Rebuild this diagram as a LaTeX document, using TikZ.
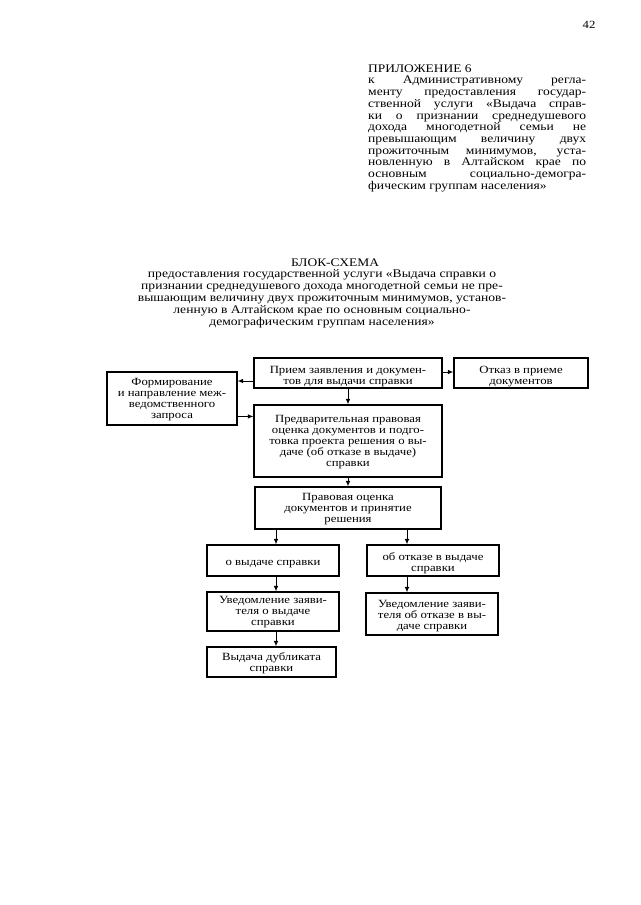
\documentclass[tikz,border=0pt]{standalone}
\usepackage{fontspec}
\setmainfont{Liberation Serif}[FakeStretch=1.16]
\usetikzlibrary{arrows.meta,calc}
\hyphenpenalty=10000
\exhyphenpenalty=10000
\begin{document}
\begin{tikzpicture}[x=1pt,y=-1pt,
  frame/.style={draw,line width=1.1pt,inner sep=0pt},
  txt/.style={inner sep=0pt,align=center,yshift=-1pt,
    font=\fontsize{11}{11}\selectfont},
  arr/.style={line width=0.9pt,-{Latex[length=5.5pt,width=4.5pt]}},
  hdr/.style={inner sep=0pt}]
\useasboundingbox[fill=white] (0,0) rectangle (640,905);

% page number
\node[hdr,anchor=base,font=\fontsize{11}{11}\selectfont] (pg) at (589,28) {42};

% appendix header
\node[hdr,anchor=base west,font=\fontsize{11.6}{11.6}\selectfont] (pril) at (368,72) {ПРИЛОЖЕНИЕ 6};
\node[hdr,anchor=north west,text width=218pt,align=justify,
  font=\fontsize{11.7}{11.7}\selectfont] (reg) at (368,76)
{к Административному регла-\linebreak
менту предоставления государ-\linebreak
ственной услуги «Выдача справ-\linebreak
ки о признании среднедушевого\linebreak
дохода многодетной семьи не\linebreak
превышающим величину двух\linebreak
прожиточным минимумов, уста-\linebreak
новленную в Алтайском крае по\linebreak
основным социально-демогра-\linebreak
фическим группам населения»};

% title
\node[hdr,anchor=base,font=\fontsize{11.6}{11.6}\selectfont] (title) at (335,266) {БЛОК-СХЕМА};
\node[hdr,anchor=north,align=center,font=\fontsize{11.7}{12.1}\selectfont] (sub) at (322,269)
{предоставления государственной услуги «Выдача справки о\\
признании среднедушевого дохода многодетной семьи не пре-\\
вышающим величину двух прожиточным минимумов, установ-\\
ленную в Алтайском крае по основным социально-\\
демографическим группам населения»};

% boxes (frames)
\node[frame,minimum width=188pt,minimum height=30pt] (priem) at (348,373) {};
\node[frame,minimum width=134pt,minimum height=30pt] (otkaz) at (521,373) {};
\node[frame,minimum width=130pt,minimum height=53pt] (form) at (172,398.5) {};
\node[frame,minimum width=188pt,minimum height=72pt] (pred) at (348,441) {};
\node[frame,minimum width=186pt,minimum height=42pt] (prav) at (348,508) {};
\node[frame,minimum width=132pt,minimum height=31pt] (vyd) at (273,560.5) {};
\node[frame,minimum width=132pt,minimum height=31pt] (otk) at (433,560.5) {};
\node[frame,minimum width=132pt,minimum height=39pt] (uv1) at (273,611.5) {};
\node[frame,minimum width=132pt,minimum height=42pt] (uv2) at (432,614) {};
\node[frame,minimum width=129pt,minimum height=30pt] (dub) at (271.5,662) {};

% box texts
\node[txt,yshift=-3pt] (priem-t) at (priem) {Прием заявления и докумен-\\тов для выдачи справки};
\node[txt,yshift=-3pt] (otkaz-t) at (otkaz) {Отказ в приеме\\документов};
\node[txt] (form-t) at (form) {Формирование\\и направление меж-\\ведомственного\\запроса};
\node[txt] (pred-t) at (pred) {Предварительная правовая\\оценка документов и подго-\\товка проекта решения о вы-\\даче (об отказе в выдаче)\\справки};
\node[txt] (prav-t) at (prav) {Правовая оценка\\документов и принятие\\решения};
\node[txt,yshift=-3pt] (vyd-t) at (vyd) {о выдаче справки};
\node[txt,yshift=-1.5pt] (otk-t) at (otk) {об отказе в выдаче\\справки};
\node[txt] (uv1-t) at (uv1) {Уведомление заяви-\\теля о выдаче\\справки};
\node[txt,yshift=-1.5pt] (uv2-t) at (uv2) {Уведомление заяви-\\теля об отказе в вы-\\даче справки};
\node[txt] (dub-t) at (dub) {Выдача дубликата\\справки};

% connectors
\draw[arr] (priem.south) -- (pred.north);
\draw[arr] ([yshift=-8pt]priem.west) -- ([yshift=-8pt]priem.west -| form.east);
\draw[arr] ([yshift=1pt]priem.east) -- ([yshift=1pt]priem.east -| otkaz.west);
\draw[arr] ([yshift=-12pt]pred.north west -| form.east) -- ([yshift=-12pt]pred.north west);
\draw[arr] (pred.south) -- (prav.north);
\draw[arr] ([xshift=3pt]vyd.north |- prav.south) -- ([xshift=3pt]vyd.north);
\draw[arr] ([xshift=-26pt]otk.north |- prav.south) -- ([xshift=-26pt]otk.north);
\draw[arr] ([xshift=3pt]vyd.south) -- ([xshift=3pt]vyd.south |- uv1.north);
\draw[arr] ([xshift=-26pt]otk.south) -- ([xshift=-26pt]otk.south |- uv2.north);
\draw[arr] ([xshift=3pt]uv1.south) -- ([xshift=3pt]uv1.south |- dub.north);
\end{tikzpicture}
\end{document}
